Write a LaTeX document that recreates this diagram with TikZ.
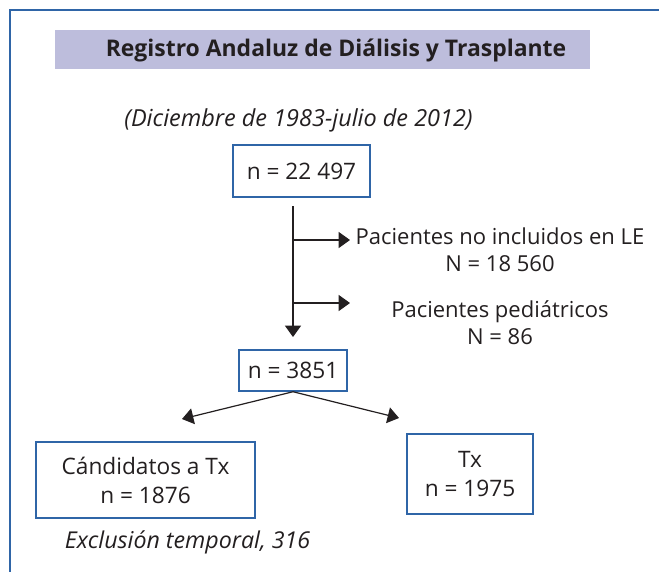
\documentclass[tikz,border=0pt]{standalone}
\usepackage{fontspec}
\setmainfont{Open Sans}
\usetikzlibrary{arrows.meta}
\definecolor{frameblue}{HTML}{2F65A7}
\definecolor{bandfill}{HTML}{BDBDDC}
\definecolor{ink}{HTML}{231F20}
\tikzset{
  px/.style={x=0.75pt,y=-0.75pt},
  txt/.style={text=ink,font=\fontsize{16.5}{20.5}\selectfont,align=center,inner sep=0pt},
  boxnode/.style={draw=frameblue,line width=1.1pt,text=ink,font=\fontsize{17}{21.75}\selectfont,align=center,inner sep=0pt},
  arr/.style={draw=ink,line width=0.9pt,-{Triangle[length=8.5pt,width=12pt]}},
  framestyle/.style={draw=frameblue,line width=1.3pt}
}
\begin{document}
\begin{tikzpicture}[px]
\useasboundingbox (0,0) rectangle (659,572);
% open frame
\coordinate (ftl) at (10,10);
\coordinate (ftr) at (659,10);
\coordinate (fbl) at (10,572);
\draw[framestyle] (ftr) -- (ftl) -- (fbl);
% title band
\node[fill=bandfill,minimum width=535*0.75pt,minimum height=39*0.75pt,inner sep=0pt] (band) at (322.5,49.5) {};
\node[txt,font=\fontsize{17.2}{20}\selectfont\bfseries] (title) at (336,50) {Registro Andaluz de Diálisis y Trasplante};
% date
\node[txt,font=\fontsize{17.6}{20}\selectfont\itshape] (date) at (298.5,120) {(Diciembre de 1983-julio de 2012)};
% boxes
\node[boxnode,minimum width=137*0.75pt,minimum height=52*0.75pt] (b1) at (301.5,171) {n = 22 497};
\node[boxnode,minimum width=108*0.75pt,minimum height=41*0.75pt] (b2) at (293,370.5) {n = 3851};
\node[boxnode,minimum width=219*0.75pt,minimum height=76*0.75pt] (b3) at (145.5,480) {Cándidatos a Tx\\n = 1876};
\node[boxnode,minimum width=126*0.75pt,minimum height=80*0.75pt] (b4) at (470,474) {Tx\\n = 1975};
% side texts
\node[txt] (t1) at (500,250) {Pacientes no incluidos en LE\\N = 18 560};
\node[txt] (t2) at (500,323) {Pacientes pediátricos\\N = 86};
\node[txt,font=\fontsize{17.4}{20}\selectfont\itshape] (excl) at (187.5,542) {Exclusión temporal, 316};
% connectors
\coordinate (vtop) at (293,206);
\coordinate (j1) at (293,240);
\coordinate (j2) at (293,303);
\coordinate (e1) at (350,240);
\coordinate (e2) at (350,303);
\coordinate (vend) at (293,337);
\coordinate (l1) at (182,419);
\coordinate (r1) at (399,418);
\draw[arr] (vtop) -- (vend);
\draw[arr] (j1) -- (e1);
\draw[arr] (j2) -- (e2);
\draw[arr] (b2.south) -- (l1);
\draw[arr] (b2.south) -- (r1);
\end{tikzpicture}
\end{document}
